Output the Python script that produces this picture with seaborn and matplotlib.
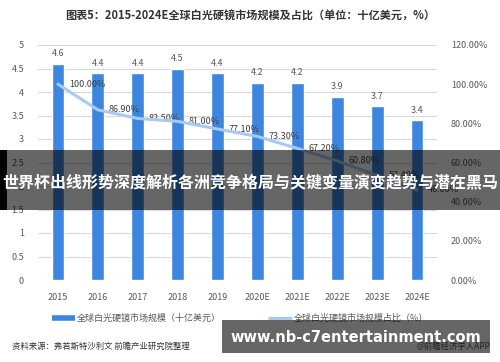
import matplotlib
matplotlib.use("Agg")
import matplotlib.pyplot as plt
import seaborn as sns
import pandas as pd
from matplotlib.patches import Rectangle
from matplotlib.lines import Line2D

sns.set_theme(style="white")
plt.rcParams['font.family'] = ['Noto Sans CJK SC', 'DejaVu Sans']

years = ["2015", "2016", "2017", "2018", "2019", "2020E", "2021E", "2022E", "2023E", "2024E"]
market_size = [4.6, 4.4, 4.4, 4.5, 4.4, 4.2, 4.2, 3.9, 3.7, 3.4]
share_pct = [100.00, 86.90, 82.50, 81.00, 77.10, 73.30, 67.20, 60.80, 53.40, 46.00]
left_ticks = [0, 0.5, 1, 1.5, 2, 2.5, 3, 3.5, 4, 4.5, 5]
right_ticks = [0, 20, 40, 60, 80, 100, 120]

title = "图表5：2015-2024E全球白光硬镜市场规模及占比（单位：十亿美元，%）"
legend_bar = "全球白光硬镜市场规模（十亿美元）"
legend_line = "全球白光硬镜市场规模占比（%）"
source = "资料来源：弗若斯特沙利文 前瞻产业研究院整理"
brand = "@前瞻经济学人APP"
banner = "世界杯出线形势深度解析各洲竞争格局与关键变量演变趋势与潜在黑马"
watermark = "www.nb-c7entertainment.com"

bar_color = "#3D86E0"
line_color = "#A8CAF2"
txt = "#595959"

df = pd.DataFrame({"year": years, "size": market_size, "share": [v / 100 for v in share_pct],
                   "pos": list(range(len(years)))})

W, H = 500, 362
fig = plt.figure(figsize=(W / 100, H / 100), dpi=100)
ax = fig.add_axes([38 / W, 1 - 280 / H, (437 - 38) / W, (280 - 45) / H])

sns.barplot(data=df, x="year", y="size", color=bar_color, width=0.32, ax=ax,
            saturation=1, zorder=3)
ax.set_ylim(0, 5)
ax.set_yticks(left_ticks)
ax.set_yticklabels([f"{t:g}" for t in left_ticks], fontsize=6.5, color=txt)
ax.tick_params(axis="y", length=0, pad=10)
ax.tick_params(axis="x", length=0, pad=9, labelsize=6.5, labelcolor=txt)
ax.set_xlabel("")
ax.set_ylabel("")
ax.grid(axis="y", color="#D9D9D9", linewidth=0.8, zorder=0)
ax.set_axisbelow(True)
for s in ax.spines.values():
    s.set_visible(False)
ax.set_xlim(-0.5, len(years) - 0.5)

for i, v in enumerate(market_size):
    ax.annotate(f"{v:g}", (i, v), xytext=(0, 4), textcoords="offset points",
                ha="center", va="bottom", fontsize=6.5, color=txt)

ax2 = ax.twinx()
sns.lineplot(data=df, x="pos", y="share", color=line_color, linewidth=2.2, ax=ax2,
             sort=False, zorder=4)
ax2.set_ylim(0, 1.2)
ax2.set_yticks([t / 100 for t in right_ticks])
ax2.set_yticklabels([f"{t:.2f}%" for t in right_ticks], fontsize=6.5, color=txt)
ax2.tick_params(axis="y", length=0, pad=10)
ax2.set_ylabel("")
ax2.set_xlabel("")
for s in ax2.spines.values():
    s.set_visible(False)
ax2.set_xlim(-0.5, len(years) - 0.5)
for i, v in enumerate(share_pct):
    ax2.annotate(f"{v:.2f}%", (i, v / 100), xytext=(8, 0), textcoords="offset points",
                 ha="left", va="center", fontsize=6.5, color="#404040")

fig.text(250 / W, 1 - 16 / H, title, ha="center", va="center", fontsize=8,
         fontweight="bold", color="#333333")

# legend
fig.add_artist(Line2D([52 / W, 75 / W], [1 - 318 / H] * 2, color=bar_color, linewidth=4,
                      solid_capstyle="butt"))
fig.text(77 / W, 1 - 318 / H, legend_bar, ha="left", va="center", fontsize=6.5, color=txt)
fig.add_artist(Line2D([268 / W, 292 / W], [1 - 318 / H] * 2, color=line_color, linewidth=2.2,
                      solid_capstyle="butt"))
fig.text(294 / W, 1 - 318 / H, legend_line, ha="left", va="center", fontsize=6.5, color=txt)

fig.text(12 / W, 1 - 346 / H, source, ha="left", va="center", fontsize=6, color="#333333")
fig.text(490 / W, 1 - 346 / H, brand, ha="right", va="center", fontsize=6, color="#555555")

# overlays
fig.add_artist(Rectangle((0, 1 - 210 / H), 1, 60 / H, transform=fig.transFigure,
                         facecolor="black", alpha=0.6, edgecolor="none", zorder=10))
fig.add_artist(Rectangle((0, 1 - 210 / H), 7 / W, 60 / H, transform=fig.transFigure,
                         facecolor="black", edgecolor="none", zorder=11))
fig.text(250 / W, 1 - 182 / H, banner, ha="center", va="center", fontsize=11.5,
         fontweight="bold", color="white", zorder=12)

fig.add_artist(Rectangle((222 / W, 1 - 353 / H), (490 - 222) / W, 33 / H,
                         transform=fig.transFigure, facecolor="black", alpha=0.6,
                         edgecolor="none", zorder=10))
fig.text(356 / W, 1 - 337 / H, watermark, ha="center", va="center", fontsize=10.5,
         fontweight="bold", color="white", family=["DejaVu Sans"], zorder=12)

fig.savefig("out.png", dpi=100)
